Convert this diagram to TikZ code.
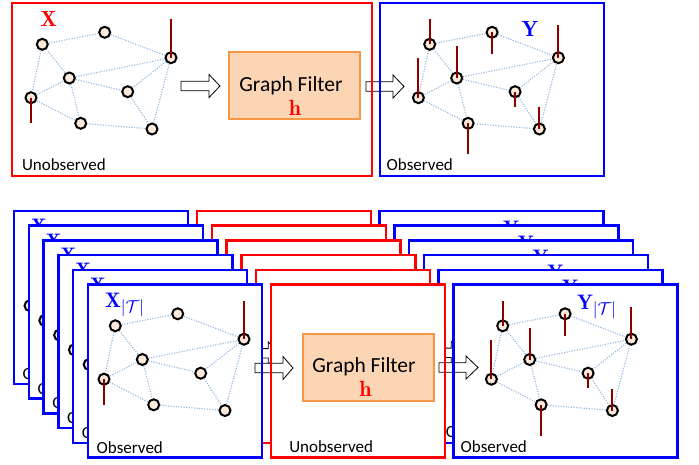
\documentclass[tikz,border=0pt]{standalone}
\usepackage{fontspec}
\newfontfamily\calibri{Carlito}
\def\defaultscriptratio{.8}
\definecolor{boxred}{RGB}{255,0,0}
\definecolor{boxblue}{RGB}{0,0,255}
\definecolor{filterfill}{RGB}{252,213,181}
\definecolor{filterdraw}{RGB}{247,150,70}
\definecolor{nodefill}{RGB}{253,233,217}
\definecolor{edgeblue}{RGB}{141,180,226}
\definecolor{stemred}{RGB}{140,0,0}
\tikzset{
 gnode/.style={circle,draw=black,fill=nodefill,line width=2pt,minimum size=11pt,inner sep=0pt},
 gedge/.style={draw=edgeblue,line width=1.1pt,dash pattern=on 1.1pt off 1.5pt},
 stemline/.style={draw=stemred,line width=2.1pt},
 redframe/.style={draw=boxred,line width=2.5pt},
 blueframe/.style={draw=boxblue,line width=2.5pt},
 filterbox/.style={draw=filterdraw,fill=filterfill,line width=2pt,minimum width=131pt,minimum height=67pt,inner sep=0pt},
 hollow/.style={draw=black,fill=white,line width=0.8pt,line join=miter},
 txt/.style={inner sep=0pt,outer sep=0pt},
 caltext/.style={txt,font=\calibri\fontsize{17}{20}\selectfont},
 filtertext/.style={txt,font=\calibri\fontsize{21.5}{25}\selectfont},
 mlabel/.style={txt,font=\fontsize{22}{26}\selectfont},
 slabel/.style={txt,font=\fontsize{21}{25}\selectfont},
}
\newcommand\drawgraph[3]{%
 \begin{scope}[shift={(#2,#3)}]
  \node[gnode] (#1n1) at (42.3,44.3) {};
  \node[gnode] (#1n2) at (104.7,32.3) {};
  \node[gnode] (#1n3) at (171,57.7) {};
  \node[gnode] (#1n4) at (69.3,78) {};
  \node[gnode] (#1n5) at (127.7,91.7) {};
  \node[gnode] (#1n6) at (31,97.7) {};
  \node[gnode] (#1n7) at (80.7,123.3) {};
  \node[gnode] (#1n8) at (152,129) {};
  \foreach \a/\b in {1/2,2/3,1/4,1/6,4/3,4/6,4/5,4/7,6/7,7/8,5/8,3/5,3/8}{\draw[gedge] (#1n\a) -- (#1n\b);}
 \end{scope}}
\newcommand\stemsX[1]{%
 \draw[stemline] (#1n3.center) -- ++(0,-38.4);
 \draw[stemline] (#1n6.center) -- ++(0,25.6);}
\newcommand\stemsY[1]{%
 \foreach \n/\l in {1/-25,2/22,3/-32.7,4/-32,5/15,6/-39.4,7/31,8/-21.7}{\draw[stemline] (#1n\n.center) -- ++(0,\l);}}
\newcommand\harrow[4]{%
 \draw[hollow] (#1,#4-4.7) -- (#2,#4-4.7) -- (#2,#4-11.5) -- (#3,#4) -- (#2,#4+11.5) -- (#2,#4+4.7) -- (#1,#4+4.7) -- cycle;}
\begin{document}
\begin{tikzpicture}[x=1pt,y=-1pt]
\useasboundingbox (0,0) rectangle (699,464);
% ---------- top row ----------
\fill[white] (12,3) rectangle (372,176);
\fill[white] (380,3) rectangle (604,176);
\harrow{181}{209}{220}{86}
\harrow{366}{393}{404}{86.5}
\draw[redframe] (12,3) rectangle (372,176);
\draw[blueframe] (380,3) rectangle (604,176);
\node[filterbox] (Ftop) at (294.5,85.5) {};
\node[filtertext,anchor=base] (GFtop) at (291,91.7) {Graph Filter};
\node[mlabel,text=boxred,anchor=base] (Htop) at (295,115) {$\mathbf{h}$};
\node[mlabel,text=boxred,anchor=base] (Xtop) at (48.8,26) {$\mathbf{X}$};
\node[mlabel,text=boxblue,anchor=base] (Ytop) at (530,36) {$\mathbf{Y}$};
\node[caltext,anchor=base west] (Utop) at (22,170) {Unobserved};
\node[caltext,anchor=base west] (Otop) at (386.7,170) {Observed};
\drawgraph{TX}{0}{0}
\stemsX{TX}
\drawgraph{TY}{387.4}{0}
\stemsY{TY}
% ---------- bottom stacks ----------
\foreach \i in {0,...,5}{
 \pgfmathsetmacro\ox{(5-\i)*14.8}
 \pgfmathsetmacro\oy{(5-\i)*14.7}
 \begin{scope}[shift={(-\ox,-\oy)}]
  \fill[white] (88,284.5) rectangle (262,457.5);
  \fill[white] (271,284.5) rectangle (445,457.5);
  \fill[white] (453.5,284.5) rectangle (677.5,457.5);
  \harrow{255}{283}{293}{368}
  \harrow{439}{466}{478}{367.5}
  \draw[blueframe] (88,284.5) rectangle (262,457.5);
  \draw[redframe] (271,284.5) rectangle (445,457.5);
  \draw[blueframe] (453.5,284.5) rectangle (677.5,457.5);
  \node[caltext,anchor=base west] (OX\i) at (96.7,453) {Observed};
  \node[caltext,anchor=base west] (OY\i) at (460.7,452) {Observed};
  \ifnum\i=5\relax
   \node[filterbox] (F\i) at (368,367.5) {};
   \node[filtertext,anchor=base] (GF\i) at (364,372) {Graph Filter};
   \node[mlabel,text=boxred,anchor=base] (H\i) at (365.5,396) {$\mathbf{h}$};
   \node[caltext,anchor=base west] (UR\i) at (289.3,452) {Unobserved};
   \node[slabel,text=boxblue,anchor=base west] (LX\i) at (105,307) {$\mathbf{X}_{|\mathcal{T}|}$};
   \node[slabel,text=boxblue,anchor=base west] (LY\i) at (577,309) {$\mathbf{Y}_{|\mathcal{T}|}$};
  \else
   \node[slabel,text=boxblue,anchor=base west] (LX\i) at (105,307) {$\mathbf{X}$};
   \node[slabel,text=boxblue,anchor=base west] (LY\i) at (577,309) {$\mathbf{Y}$};
  \fi
  \drawgraph{X\i}{73}{281.5}
  \stemsX{X\i}
  \drawgraph{Y\i}{460.4}{281.5}
  \stemsY{Y\i}
 \end{scope}
}
\end{tikzpicture}
\end{document}
